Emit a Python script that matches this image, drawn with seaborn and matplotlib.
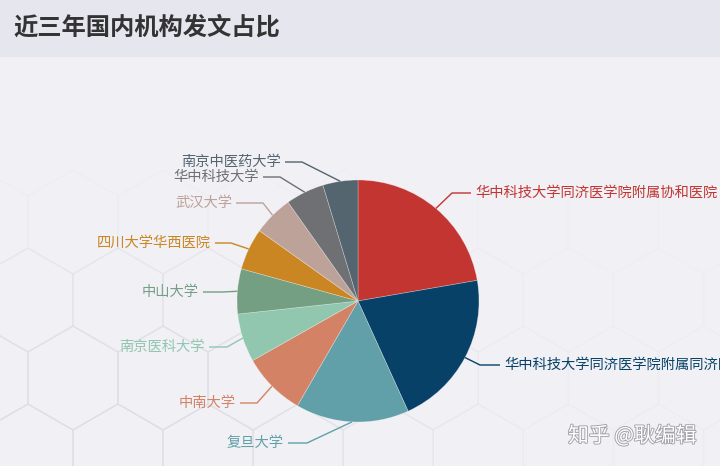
import numpy as np
import matplotlib
matplotlib.use("Agg")
import matplotlib.pyplot as plt
import seaborn as sns
from matplotlib.patches import Rectangle, RegularPolygon
import matplotlib.patheffects as pe

# ---------------- data ----------------
institutions = ["华中科技大学同济医学院附属协和医院", "华中科技大学同济医学院附属同济医院",
                "复旦大学", "中南大学", "南京医科大学", "中山大学",
                "四川大学华西医院", "武汉大学", "华中科技大学", "南京中医药大学"]
papers = [100, 94, 68, 38, 29, 27, 25, 24, 23, 21]
slice_colors = ["#c23531", "#074168", "#61a0a8", "#d48265", "#91c7ae",
                "#749f83", "#ca8622", "#bda29a", "#6e7074", "#546570"]
title_text = "近三年国内机构发文占比"
watermark = "知乎 @耿编辑"

# ---------------- layout (pixels, y from top) ----------------
W, H = 720, 466
pie_center = (358, 301)
pie_radius = 121
label_elbows = [(452, 193), (480, 365), (307, 443), (257, 403), (227, 347),
                (222, 292), (231, 243), (263, 203), (280, 177), (302, 162)]
label_ends = [471, 500, 288, 240, 209, 203, 215, 236, 263, 285]

sns.set_theme(style="white")
plt.rcParams["font.family"] = ["Noto Sans CJK SC", "DejaVu Sans"]
palette = sns.color_palette(slice_colors)

bg = "#f0f0f5"
fig = plt.figure(figsize=(7.2, 4.66), dpi=100, facecolor=bg)
ax = fig.add_axes([0, 0, 1, 1])
ax.set_facecolor(bg)

# faint honeycomb background
R = 52
hw = np.sqrt(3) * R
for k in range(-4, 4):
    cy = 300 + k * 1.5 * R
    for j in range(-2, 10):
        cx = 118 + (k % 2) * hw / 2 + j * hw
        a = np.clip((cy - 190) / 170, 0, 1) * np.clip((580 - cx) / 380, 0.12, 1)
        if a <= 0:
            continue
        ax.add_patch(RegularPolygon((cx, H - cy), numVertices=6, radius=R,
                                    orientation=0, fill=False,
                                    edgecolor="#dadae2", linewidth=1.0,
                                    alpha=float(a) * 0.6, zorder=0))

# title bar
ax.add_patch(Rectangle((0, H - 57), W, 57, facecolor="#e6e6ee",
                       edgecolor="none", zorder=1))
ax.text(13, H - 28, title_text, fontsize=17.5, fontweight="bold",
        color="#333333", va="center", ha="left", zorder=5)

# pie
wedges, _ = ax.pie(papers, colors=palette, startangle=90, counterclock=False,
                   center=(pie_center[0], H - pie_center[1]), radius=pie_radius,
                   wedgeprops=dict(linewidth=0.5, edgecolor=(1, 1, 1, 0.35)),
                   frame=True)
for w_ in wedges:
    w_.set_zorder(3)

# labels with leader lines
for wdg, name, col, (ex, ey), endx in zip(wedges, institutions, palette,
                                          label_elbows, label_ends):
    th = np.deg2rad((wdg.theta1 + wdg.theta2) / 2)
    sx = pie_center[0] + pie_radius * np.cos(th)
    sy = (H - pie_center[1]) + pie_radius * np.sin(th)
    ax.plot([sx, ex, endx], [sy, H - ey, H - ey], color=col, lw=1.0,
            zorder=4, solid_capstyle="butt")
    right = endx > pie_center[0]
    tx = endx + 4 if right else endx - 4
    ax.text(tx, H - ey, name, fontsize=10.3, color=col,
            ha="left" if right else "right", va="center", zorder=5)

# watermark
ax.text(568, H - 436, watermark, fontsize=15, color="white",
        ha="left", va="center", zorder=6,
        path_effects=[pe.withStroke(linewidth=1.3, foreground="#a0a0a8")])

ax.set_xlim(0, W)
ax.set_ylim(0, H)
ax.set_aspect("equal")
ax.axis("off")

fig.savefig("out.png", dpi=100, facecolor=bg)
